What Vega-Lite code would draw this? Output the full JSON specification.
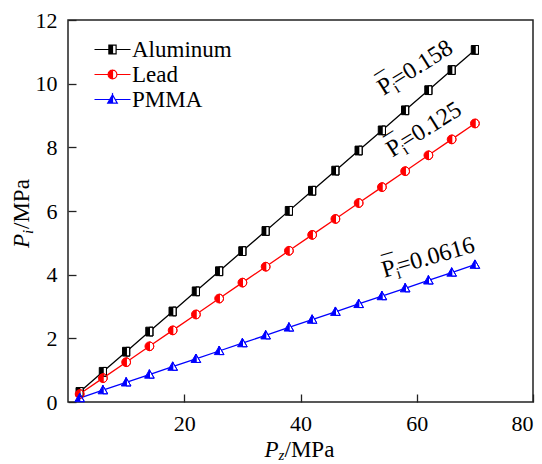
{
  "$schema": "https://vega.github.io/schema/vega-lite/v6.json",
  "autosize": "none",
  "width": 465,
  "height": 382,
  "padding": {"left": 68, "top": 20, "right": 9, "bottom": 62},
  "background": "white",
  "config": {
    "view": {"stroke": "#222", "strokeWidth": 1.5},
    "font": "Liberation Serif",
    "axis": {
      "domain": false,
      "grid": false,
      "tickSize": -8,
      "tickColor": "#222",
      "tickWidth": 1.3,
      "labelFont": "Liberation Serif",
      "labelFontSize": 22,
      "labelColor": "black",
      "title": null
    },
    "legend": {
      "labelFont": "Liberation Serif",
      "labelFontSize": 23,
      "labelColor": "black",
      "symbolSize": 144,
      "labelOffset": 8,
      "rowPadding": 1,
      "padding": 0
    },
    "text": {"font": "Liberation Serif", "color": "black"}
  },
  "datasets": {
    "pts": [
      {"series": "Aluminum", "pz": 2, "pi": 0.316},
      {"series": "Aluminum", "pz": 6, "pi": 0.948},
      {"series": "Aluminum", "pz": 10, "pi": 1.58},
      {"series": "Aluminum", "pz": 14, "pi": 2.212},
      {"series": "Aluminum", "pz": 18, "pi": 2.844},
      {"series": "Aluminum", "pz": 22, "pi": 3.476},
      {"series": "Aluminum", "pz": 26, "pi": 4.108},
      {"series": "Aluminum", "pz": 30, "pi": 4.74},
      {"series": "Aluminum", "pz": 34, "pi": 5.372},
      {"series": "Aluminum", "pz": 38, "pi": 6.004},
      {"series": "Aluminum", "pz": 42, "pi": 6.636},
      {"series": "Aluminum", "pz": 46, "pi": 7.268},
      {"series": "Aluminum", "pz": 50, "pi": 7.9},
      {"series": "Aluminum", "pz": 54, "pi": 8.532},
      {"series": "Aluminum", "pz": 58, "pi": 9.164},
      {"series": "Aluminum", "pz": 62, "pi": 9.796},
      {"series": "Aluminum", "pz": 66, "pi": 10.428},
      {"series": "Aluminum", "pz": 70, "pi": 11.06},
      {"series": "Lead", "pz": 2, "pi": 0.25},
      {"series": "Lead", "pz": 6, "pi": 0.75},
      {"series": "Lead", "pz": 10, "pi": 1.25},
      {"series": "Lead", "pz": 14, "pi": 1.75},
      {"series": "Lead", "pz": 18, "pi": 2.25},
      {"series": "Lead", "pz": 22, "pi": 2.75},
      {"series": "Lead", "pz": 26, "pi": 3.25},
      {"series": "Lead", "pz": 30, "pi": 3.75},
      {"series": "Lead", "pz": 34, "pi": 4.25},
      {"series": "Lead", "pz": 38, "pi": 4.75},
      {"series": "Lead", "pz": 42, "pi": 5.25},
      {"series": "Lead", "pz": 46, "pi": 5.75},
      {"series": "Lead", "pz": 50, "pi": 6.25},
      {"series": "Lead", "pz": 54, "pi": 6.75},
      {"series": "Lead", "pz": 58, "pi": 7.25},
      {"series": "Lead", "pz": 62, "pi": 7.75},
      {"series": "Lead", "pz": 66, "pi": 8.25},
      {"series": "Lead", "pz": 70, "pi": 8.75},
      {"series": "PMMA", "pz": 2, "pi": 0.123},
      {"series": "PMMA", "pz": 6, "pi": 0.37},
      {"series": "PMMA", "pz": 10, "pi": 0.616},
      {"series": "PMMA", "pz": 14, "pi": 0.862},
      {"series": "PMMA", "pz": 18, "pi": 1.109},
      {"series": "PMMA", "pz": 22, "pi": 1.355},
      {"series": "PMMA", "pz": 26, "pi": 1.602},
      {"series": "PMMA", "pz": 30, "pi": 1.848},
      {"series": "PMMA", "pz": 34, "pi": 2.094},
      {"series": "PMMA", "pz": 38, "pi": 2.341},
      {"series": "PMMA", "pz": 42, "pi": 2.587},
      {"series": "PMMA", "pz": 46, "pi": 2.834},
      {"series": "PMMA", "pz": 50, "pi": 3.08},
      {"series": "PMMA", "pz": 54, "pi": 3.326},
      {"series": "PMMA", "pz": 58, "pi": 3.573},
      {"series": "PMMA", "pz": 62, "pi": 3.819},
      {"series": "PMMA", "pz": 66, "pi": 4.066},
      {"series": "PMMA", "pz": 70, "pi": 4.312}
    ],
    "annos": [
      {"series": "Aluminum", "pz": 54.3, "pi": 9.61, "value": "=0.158"},
      {"series": "Lead", "pz": 55.8, "pi": 7.67, "value": "=0.125"},
      {"series": "PMMA", "pz": 54.4, "pi": 3.9, "value": "=0.0616"}
    ],
    "one": [{"k": 1}]
  },
  "resolve": {"scale": {"shape": "independent"}},
  "layer": [
    {
      "data": {"name": "pts"},
      "mark": {"type": "line", "strokeWidth": 1.3},
      "encoding": {
        "x": {"field": "pz", "type": "quantitative", "scale": {"domain": [0, 80], "nice": false, "zero": false},
              "axis": {"values": [20, 40, 60, 80], "labelPadding": 19}},
        "y": {"field": "pi", "type": "quantitative", "scale": {"domain": [0, 12], "nice": false, "zero": false},
              "axis": {"values": [0, 2, 4, 6, 8, 10, 12], "labelPadding": 19}},
        "color": {
          "field": "series", "type": "nominal",
          "scale": {"domain": ["Aluminum", "Lead", "PMMA"], "range": ["#000000", "#ff0000", "#0000ff"]},
          "legend": {
            "title": null,
            "orient": "none",
            "legendX": 33,
            "legendY": 18,
            "encode": {
              "symbols": {
                "update": {
                  "shape": {"signal": "datum.value === 'Aluminum' ? 'M -3 0 L -0.6 0 M 0.6 0 L 3 0 M -0.6 -0.73 L 0 -0.73 L 0 0.73 L -0.6 0.73 Z M 0 -0.73 L 0.6 -0.73 L 0.6 0.73 L 0 0.73 Z M 0 -0.73 L 0 0.73 L 0.6 0.73 L 0.6 -0.73 Z' : datum.value === 'Lead' ? 'M -3 0 L -0.73 0 M 0.73 0 L 3 0 M 0 -0.73 A 0.73 0.73 0 0 0 0 0.73 Z M 0 -0.73 A 0.73 0.73 0 0 1 0 0.73 Z M 0 0.73 A 0.73 0.73 0 0 0 0 -0.73 Z' : 'M -3 0 L -0.46 0 M 0.46 0 L 3 0 M 0 -0.8 L 0 0.6 L -0.8 0.6 Z M 0 -0.8 L 0.8 0.6 L 0 0.6 Z M 0 -0.8 L 0 0.6 L 0.8 0.6 Z'"},
                  "fill": {"signal": "scale('color', datum.value)"},
                  "stroke": {"signal": "scale('color', datum.value)"},
                  "strokeWidth": {"value": 1.2},
                  "opacity": {"value": 1},
                  "size": {"value": 144}
                }
              }
            }
          }
        }
      }
    },
    {
      "data": {"name": "pts"},
      "mark": {"type": "point", "filled": true, "size": 64, "fill": "white", "strokeWidth": 0, "opacity": 1},
      "encoding": {
        "x": {"field": "pz", "type": "quantitative"},
        "y": {"field": "pi", "type": "quantitative"},
        "shape": {
          "field": "series", "type": "nominal",
          "scale": {"domain": ["Aluminum", "Lead", "PMMA"], "range": [
            "M -0.9 -1.1 L 0.9 -1.1 L 0.9 1.1 L -0.9 1.1 Z",
            "M 0 -1.1 A 1.1 1.1 0 1 1 0 1.1 A 1.1 1.1 0 1 1 0 -1.1 Z",
            "M 0 -1.2 L 1.2 0.9 L -1.2 0.9 Z"
          ]},
          "legend": null
        }
      }
    },
    {
      "data": {"name": "pts"},
      "mark": {"type": "point", "filled": true, "size": 64, "strokeWidth": 1, "opacity": 1},
      "encoding": {
        "x": {"field": "pz", "type": "quantitative"},
        "y": {"field": "pi", "type": "quantitative"},
        "fill": {"field": "series", "type": "nominal",
                 "scale": {"domain": ["Aluminum", "Lead", "PMMA"], "range": ["#000000", "#ff0000", "#0000ff"]}, "legend": null},
        "stroke": {"field": "series", "type": "nominal",
                   "scale": {"domain": ["Aluminum", "Lead", "PMMA"], "range": ["#000000", "#ff0000", "#0000ff"]}, "legend": null},
        "shape": {
          "field": "series", "type": "nominal",
          "scale": {"domain": ["Aluminum", "Lead", "PMMA"], "range": [
            "M -0.9 -1.1 L 0 -1.1 L 0 1.1 L -0.9 1.1 Z M 0 -1.1 L 0.9 -1.1 L 0.9 1.1 L 0 1.1 Z M 0 -1.1 L 0 1.1 L 0.9 1.1 L 0.9 -1.1 Z",
            "M 0 -1.1 A 1.1 1.1 0 0 0 0 1.1 Z M 0 -1.1 A 1.1 1.1 0 0 1 0 1.1 Z M 0 1.1 A 1.1 1.1 0 0 0 0 -1.1 Z",
            "M 0 -1.2 L 0 0.9 L -1.2 0.9 Z M 0 -1.2 L 1.2 0.9 L 0 0.9 Z M 0 -1.2 L 0 0.9 L 1.2 0.9 Z"
          ]},
          "legend": null
        }
      }
    },
    {
      "data": {"name": "annos"},
      "transform": [{"filter": "datum.series !== 'PMMA'"}],
      "encoding": {
        "x": {"field": "pz", "type": "quantitative"},
        "y": {"field": "pi", "type": "quantitative"}
      },
      "layer": [
        {"mark": {"type": "text", "align": "left", "baseline": "alphabetic", "fontSize": 24, "text": "P", "angle": 328}},
        {"mark": {"type": "text", "align": "left", "baseline": "alphabetic", "fontSize": 24, "text": "¯", "dx": 3, "dy": -5, "angle": 328}},
        {"mark": {"type": "text", "align": "left", "baseline": "alphabetic", "fontSize": 16, "text": "i", "dx": 13, "dy": 5, "angle": 328}},
        {"mark": {"type": "text", "align": "left", "baseline": "alphabetic", "fontSize": 24, "dx": 16, "angle": 328},
         "encoding": {"text": {"field": "value"}}}
      ]
    },
    {
      "data": {"name": "annos"},
      "transform": [{"filter": "datum.series === 'PMMA'"}],
      "encoding": {
        "x": {"field": "pz", "type": "quantitative"},
        "y": {"field": "pi", "type": "quantitative"}
      },
      "layer": [
        {"mark": {"type": "text", "align": "left", "baseline": "alphabetic", "fontSize": 24, "text": "P", "angle": 344}},
        {"mark": {"type": "text", "align": "left", "baseline": "alphabetic", "fontSize": 24, "text": "¯", "dx": 3, "dy": -5, "angle": 344}},
        {"mark": {"type": "text", "align": "left", "baseline": "alphabetic", "fontSize": 16, "text": "i", "dx": 13, "dy": 5, "angle": 344}},
        {"mark": {"type": "text", "align": "left", "baseline": "alphabetic", "fontSize": 24, "dx": 16, "angle": 344},
         "encoding": {"text": {"field": "value"}}}
      ]
    },
    {
      "data": {"name": "one"},
      "mark": {"type": "text", "align": "left", "baseline": "middle", "fontSize": 23, "fontStyle": "italic", "text": "P", "dx": -36},
      "encoding": {"x": {"datum": 40}, "y": {"datum": -1.5}}
    },
    {
      "data": {"name": "one"},
      "mark": {"type": "text", "align": "left", "baseline": "middle", "fontSize": 15, "fontStyle": "italic", "text": "z", "dx": -22, "dy": 5},
      "encoding": {"x": {"datum": 40}, "y": {"datum": -1.5}}
    },
    {
      "data": {"name": "one"},
      "mark": {"type": "text", "align": "left", "baseline": "middle", "fontSize": 23, "text": "/MPa", "dx": -16},
      "encoding": {"x": {"datum": 40}, "y": {"datum": -1.5}}
    },
    {
      "data": {"name": "one"},
      "mark": {"type": "text", "align": "left", "baseline": "middle", "fontSize": 23, "fontStyle": "italic", "text": "P", "dx": -37, "angle": 270},
      "encoding": {"x": {"datum": -7.9}, "y": {"datum": 6.0}}
    },
    {
      "data": {"name": "one"},
      "mark": {"type": "text", "align": "left", "baseline": "middle", "fontSize": 15, "fontStyle": "italic", "text": "i", "dx": -23, "dy": 6, "angle": 270},
      "encoding": {"x": {"datum": -7.9}, "y": {"datum": 6.0}}
    },
    {
      "data": {"name": "one"},
      "mark": {"type": "text", "align": "left", "baseline": "middle", "fontSize": 23, "text": "/MPa", "dx": -18, "angle": 270},
      "encoding": {"x": {"datum": -7.9}, "y": {"datum": 6.0}}
    }
  ]
}
